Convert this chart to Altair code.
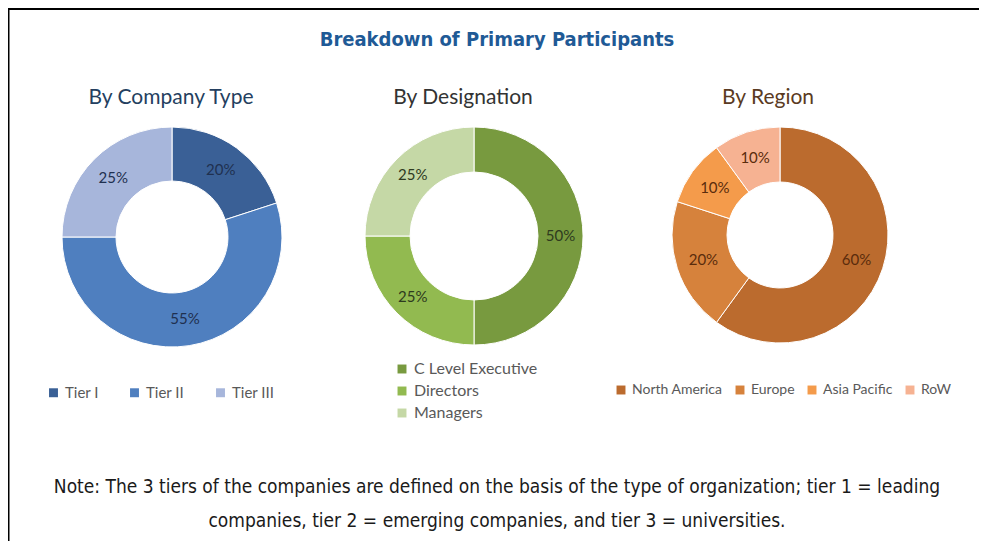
import altair as alt
import pandas as pd

# ---- data ----
company_types = ["Tier I", "Tier II", "Tier III"]
company_values = [20, 55, 25]
company_colors = ["#3A6096", "#4F7FBF", "#A7B6DB"]

designations = ["C Level Executive", "Directors", "Managers"]
designation_values = [50, 25, 25]
designation_colors = ["#789A3F", "#92BA50", "#C5D8A6"]

regions = ["North America", "Europe", "Asia Pacific", "RoW"]
region_values = [60, 20, 10, 10]
region_colors = ["#BB6B2E", "#D6823C", "#F49B4B", "#F6B292"]

main_title = "Breakdown of Primary Participants"
sub_titles = ["By Company Type", "By Designation", "By Region"]
note_lines = [
    "Note: The 3 tiers of the companies are defined on the basis of the type of organization; tier 1 = leading",
    "companies, tier 2 = emerging companies, and tier 3 = universities.",
]

W, H = 971, 533
LEG_FONT = "Lato"
COND_FONT = "'DejaVu Sans Condensed', 'Liberation Sans', sans-serif"


def table(cats, vals):
    return pd.DataFrame({
        "category": cats,
        "value": vals,
        "idx": list(range(len(cats))),
        "label": [f"{v}%" for v in vals],
    })


def donut(cats, vals, colors, cx, cy, r_in, r_out, label_color, legend):
    df = table(cats, vals)
    base = alt.Chart(df)
    arc = base.mark_arc(stroke="white", strokeWidth=1).encode(
        theta=alt.Theta("value:Q", stack=True),
        order=alt.Order("idx:Q"),
        color=alt.Color("category:N", scale=alt.Scale(domain=cats, range=colors),
                        sort=cats, legend=legend),
        x=alt.value(cx), y=alt.value(cy),
        radius=alt.value(r_out), radius2=alt.value(r_in),
    )
    txt = base.mark_text(radius=(r_in + r_out) / 2, font=LEG_FONT, fontSize=15,
                         color=label_color).encode(
        theta=alt.Theta("value:Q", stack=True),
        order=alt.Order("idx:Q"),
        detail="category:N",
        text="label:N",
        x=alt.value(cx), y=alt.value(cy),
    )
    return [arc, txt]


def leg(x, y, direction, fs=14, col_pad=26, row_pad=6):
    return alt.Legend(
        orient="none", legendX=x, legendY=y, direction=direction, title=None,
        symbolType="square", symbolSize=80, symbolStrokeWidth=0,
        labelFont=LEG_FONT, labelFontSize=fs, labelColor="#595959",
        columnPadding=col_pad, rowPadding=row_pad, labelOffset=4, padding=0,
    )


layers = []
layers += donut(company_types, company_values, company_colors, 164, 229, 56, 110,
                "#1F3050", leg(38, 377, "horizontal", fs=15, col_pad=28))
layers += donut(designations, designation_values, designation_colors, 466, 228, 64, 109,
                "#2E3A1E", leg(386, 353, "vertical", fs=16, row_pad=6))
layers += donut(regions, region_values, region_colors, 772, 227, 53, 108,
                "#5A2C0C", leg(606, 375, "horizontal", col_pad=10))

one = alt.Chart(pd.DataFrame({"k": [0]}))

# title
layers.append(one.mark_text(text=main_title, font=COND_FONT, fontWeight="bold",
                            fontSize=20, color="#1F5A96").encode(
    x=alt.value(489), y=alt.value(32)))

sub_pos = [(163, 90, "#243F60"), (455, 90, "#333333"), (760, 90, "#5A3A22")]
for t, (sx, sy, c) in zip(sub_titles, sub_pos):
    layers.append(one.mark_text(text=t, font=LEG_FONT, fontSize=21, color=c).encode(
        x=alt.value(sx), y=alt.value(sy)))

for i, line in enumerate(note_lines):
    layers.append(one.mark_text(text=line, font=COND_FONT, fontSize=19,
                                color="#1A1A1A").encode(
        x=alt.value(489), y=alt.value(479 + 34 * i)))

# frame
layers.append(one.mark_rule(color="black", strokeWidth=3).encode(
    x=alt.value(0), x2=alt.value(W), y=alt.value(0.5)))
layers.append(one.mark_rule(color="black", strokeWidth=3).encode(
    x=alt.value(0), y=alt.value(0), y2=alt.value(H)))

chart = alt.layer(*layers).resolve_scale(color="independent", theta="independent").properties(
    width=W, height=H, autosize=alt.AutoSizeParams(type="none"), padding=0,
).configure_view(stroke=None)

chart.save("out.html", embed_options={"renderer": "svg", "actions": False})
